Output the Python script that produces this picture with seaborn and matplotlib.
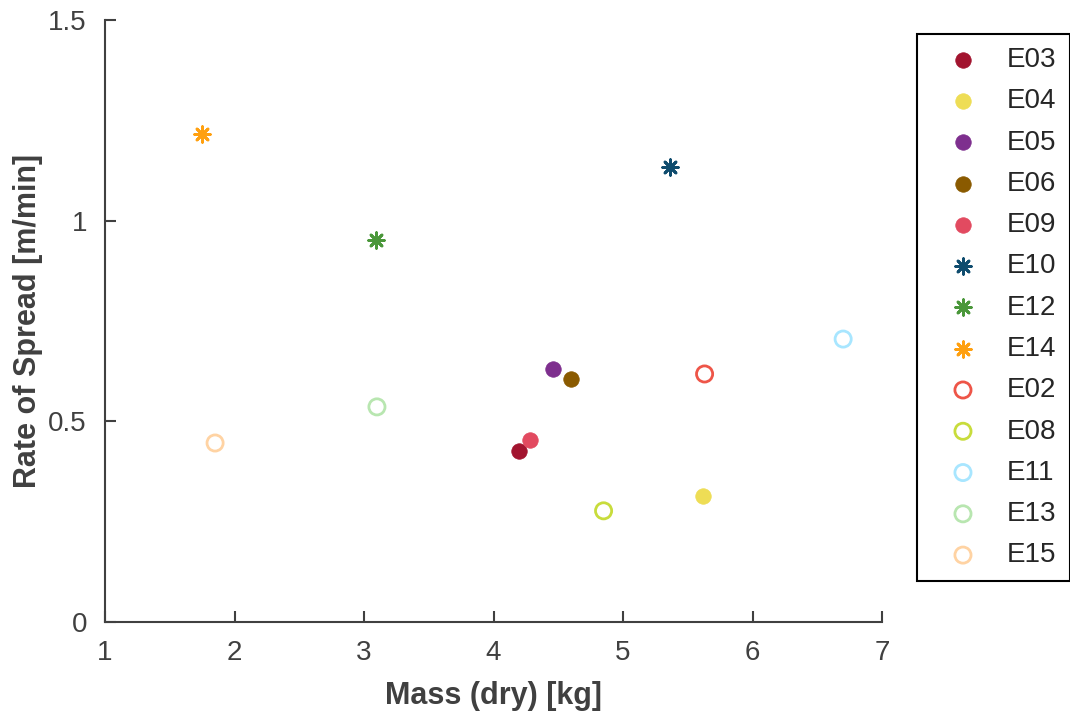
import matplotlib
matplotlib.use("Agg")
import matplotlib.pyplot as plt
import seaborn as sns

# Experiment data: dry mass vs. rate of spread
experiments = ["E03", "E04", "E05", "E06", "E09", "E10", "E12", "E14",
               "E02", "E08", "E11", "E13", "E15"]
mass_dry = [4.20, 5.62, 4.46, 4.60, 4.28, 5.36, 3.09, 1.75,
            5.63, 4.85, 6.70, 3.10, 1.85]
rate_of_spread = [0.426, 0.313, 0.630, 0.605, 0.453, 1.134, 0.953, 1.217,
                  0.618, 0.277, 0.705, 0.536, 0.446]
marker_kind = ["filled", "filled", "filled", "filled", "filled",
               "star", "star", "star",
               "open", "open", "open", "open", "open"]
colors = ["#A2142F", "#EEDD55", "#7E2F8E", "#8A5A00", "#E24A60",
          "#0F4C6E", "#4A973A", "#FFA010",
          "#EE5548", "#C8DC3C", "#A8E6FF", "#B8E6B0", "#FFD3A3"]

sns.set_theme(style="white")
plt.rcParams["font.family"] = ["Liberation Sans", "DejaVu Sans"]
text_gray = "#404040"

fig = plt.figure(figsize=(10.7, 7.15), dpi=100)
ax = fig.add_axes([105 / 1070, 1 - 622 / 715, (882 - 105) / 1070, (622 - 20) / 715])

asterisk = (8, 2, 0)
for name, x, y, kind, c in zip(experiments, mass_dry, rate_of_spread, marker_kind, colors):
    if kind == "filled":
        sns.scatterplot(x=[x], y=[y], ax=ax, marker="o", s=125, color=c,
                        edgecolor=c, linewidth=0.5, label=name)
    elif kind == "star":
        sns.scatterplot(x=[x], y=[y], ax=ax, marker=asterisk, s=125, color=c,
                        edgecolor=c, linewidth=2.0, label=name)
    else:
        sns.scatterplot(x=[x], y=[y], ax=ax, marker="o", s=135, color=c,
                        facecolor="none", edgecolor=c, linewidth=2.0, label=name)

ax.set_xlim(1, 7)
ax.set_ylim(0, 1.5)
ax.set_xticks([1, 2, 3, 4, 5, 6, 7])
ax.set_yticks([0, 0.5, 1, 1.5])
ax.set_yticklabels(["0", "0.5", "1", "1.5"])

for side in ("top", "right"):
    ax.spines[side].set_visible(False)
for side in ("left", "bottom"):
    ax.spines[side].set_color(text_gray)
    ax.spines[side].set_linewidth(1.5)

ax.tick_params(axis="both", direction="in", length=8, width=1.5,
               colors=text_gray, labelsize=20, pad=13,
               bottom=True, left=True)

ax.set_xlabel("Mass (dry) [kg]", fontsize=22, fontweight="bold", color=text_gray, labelpad=11)
ax.set_ylabel("Rate of Spread [m/min]", fontsize=22, fontweight="bold", color=text_gray, labelpad=4)

leg = ax.legend(loc="upper left", bbox_to_anchor=(917 / 1070, 1 - 34 / 715),
                bbox_transform=fig.transFigure, borderaxespad=0,
                fontsize=20, frameon=True, fancybox=False, framealpha=1,
                edgecolor="black", labelspacing=0.55, handletextpad=0.4,
                borderpad=0.47, handlelength=2.37)
leg.get_frame().set_linewidth(1.5)

fig.savefig("out.png", dpi=100, facecolor="white")
